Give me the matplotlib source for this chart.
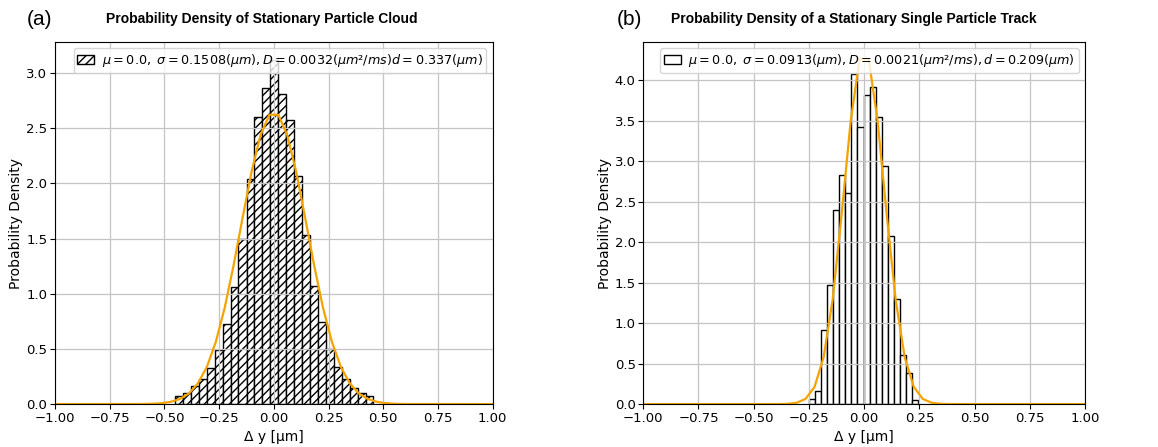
import numpy as np
import matplotlib
matplotlib.use("Agg")
import matplotlib.pyplot as plt

# (a) particle cloud histogram
edges_a = [-0.452, -0.416, -0.379, -0.343, -0.307, -0.270, -0.234, -0.198, -0.162,
           -0.125, -0.089, -0.053, -0.016, 0.020, 0.056, 0.093, 0.129, 0.165,
           0.201, 0.238, 0.274, 0.310, 0.347, 0.383, 0.419, 0.455]
dens_a = [0.07, 0.10, 0.16, 0.23, 0.33, 0.49, 0.73, 1.06, 1.50, 2.04, 2.60, 2.86, 3.12,
          2.81, 2.57, 2.07, 1.53, 1.07, 0.74, 0.50, 0.34, 0.23, 0.15, 0.10, 0.07]
# (b) single track histogram
edges_b = [-0.250, -0.2225, -0.1951, -0.1676, -0.1401, -0.1127, -0.0852, -0.0577, -0.0302,
           -0.0028, 0.0247, 0.0522, 0.0796, 0.1071, 0.1346, 0.1621, 0.1895, 0.2170, 0.2445]
dens_b = [0.06, 0.16, 0.92, 1.47, 2.40, 2.83, 2.61, 4.08, 3.42,
          3.81, 3.92, 3.54, 2.94, 2.07, 1.30, 0.60, 0.38, 0.05]

# orange fit curves (coarse sampled)
fit_x = [-1.0, -0.6327, -0.5918, -0.5510, -0.5102, -0.4694, -0.4286, -0.3878, -0.3469,
         -0.3061, -0.2653, -0.2245, -0.1837, -0.1429, -0.1020, -0.0612, -0.0204,
         0.0204, 0.0612, 0.1020, 0.1429, 0.1837, 0.2245, 0.2653, 0.3061, 0.3469,
         0.3878, 0.4286, 0.4694, 0.5102, 0.5510, 0.5918, 0.6327, 1.0]
fit_a = [0.0, 0.0004, 0.0012, 0.0033, 0.0086, 0.021, 0.047, 0.097, 0.188,
         0.337, 0.563, 0.873, 1.260, 1.688, 2.104, 2.436, 2.621,
         2.621, 2.436, 2.104, 1.688, 1.260, 0.873, 0.563, 0.337, 0.188,
         0.097, 0.047, 0.021, 0.0086, 0.0033, 0.0012, 0.0004, 0.0]
fit_b = [0.0, 0.0, 0.0, 0.0, 0.0, 0.0, 0.0, 0.0005, 0.0032,
         0.0158, 0.064, 0.2125, 0.577, 1.284, 2.341, 3.490, 4.261,
         4.261, 3.490, 2.341, 1.284, 0.577, 0.2125, 0.064, 0.0158, 0.0032,
         0.0005, 0.0, 0.0, 0.0, 0.0, 0.0, 0.0, 0.0]

label_a = r"$\mu=0.0,\ \sigma=0.1508(\mu m), D=0.0032(\mu m²/ms) d=0.337(\mu m)$"
label_b = r"$\mu=0.0,\ \sigma=0.0913(\mu m), D=0.0021(\mu m²/ms), d=0.209(\mu m)$"

fig = plt.figure(figsize=(11.58, 4.47), dpi=100)
ax1 = fig.add_axes([0.0475, 0.096, 0.378, 0.81])
ax2 = fig.add_axes([0.5555, 0.096, 0.3815, 0.81])

panels = [(ax1, edges_a, dens_a, fit_a, label_a, '////', 3.28, 3.0),
          (ax2, edges_b, dens_b, fit_b, label_b, None, 4.47, 4.0)]

for ax, edges, dens, fit, lab, hatch, ytop, ymax in panels:
    ax.bar(edges[:-1], dens, width=np.diff(edges), align='edge', facecolor='white',
           edgecolor='black', linewidth=1.0, hatch=hatch, label=lab)
    ax.plot(fit_x, fit, color='#f5a300', linewidth=1.6)
    ax.set_xlim(-1, 1)
    ax.set_ylim(0, ytop)
    ax.set_xticks(np.arange(-1, 1.01, 0.25))
    ax.set_yticks(np.arange(0, ymax + 0.01, 0.5))
    ax.grid(True, color='#c4c4c4', linewidth=0.9)
    ax.tick_params(labelsize=9.5, pad=2)
    ax.set_xlabel(r"Δ y [μm]", fontsize=10, labelpad=4)
    ax.set_ylabel("Probability Density", fontsize=10, labelpad=2)
    ax.legend(loc='upper right', fontsize=9.2, handlelength=1.3, borderpad=0.3,
              handletextpad=0.6)

fig.text(262 / 1158, 0.957, "Probability Density of Stationary Particle Cloud",
         ha='center', va='center', fontsize=10, fontweight='bold', family='Liberation Sans')
fig.text(854 / 1158, 0.957, "Probability Density of a Stationary Single Particle Track",
         ha='center', va='center', fontsize=10, fontweight='bold', family='Liberation Sans')
fig.text(27 / 1158, 0.957, "(a)", ha='left', va='center', fontsize=15, family='Liberation Sans')
fig.text(617 / 1158, 0.957, "(b)", ha='left', va='center', fontsize=15, family='Liberation Sans')

fig.savefig("out.png", dpi=100)
